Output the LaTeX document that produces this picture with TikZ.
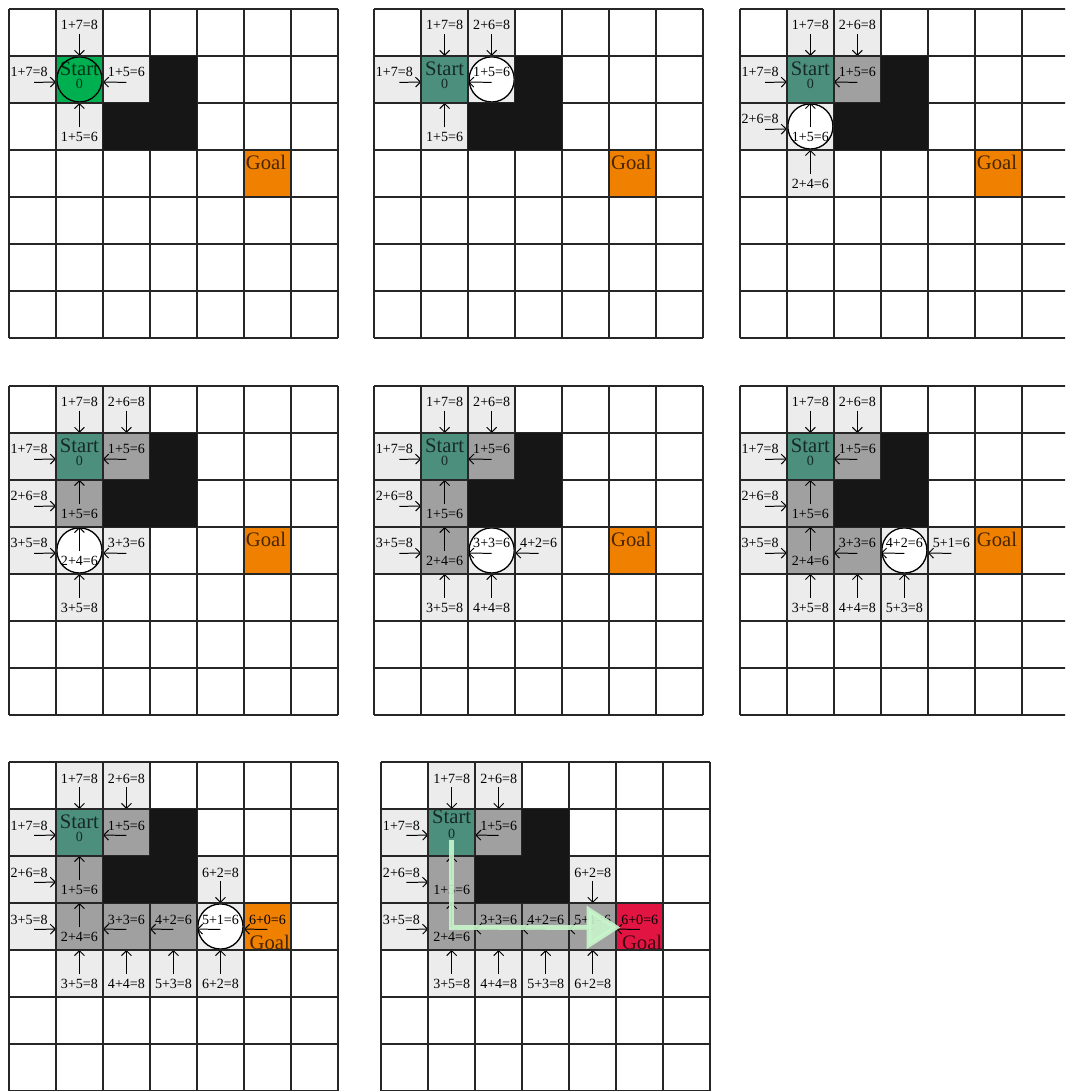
\documentclass[tikz,border=0pt]{standalone}
\usepackage{fontspec}
\setmainfont{Liberation Serif}
\usetikzlibrary{arrows.meta}

\definecolor{openGray}{RGB}{236,236,236}
\definecolor{closedGray}{RGB}{160,160,160}
\definecolor{wallBlack}{RGB}{22,22,22}
\definecolor{startGreen}{RGB}{0,176,80}
\definecolor{startTeal}{RGB}{76,143,124}
\definecolor{goalOrange}{RGB}{240,128,0}
\definecolor{goalRed}{RGB}{226,20,66}
\definecolor{routeGreen}{RGB}{200,246,204}

% cell whose arrow points down / up / left / right to its parent
% [circle style]{col}{row}{fill style}{f = g + h}
\newcommand{\dncell}[5][]{%
  \fill[#4] (#2,-#3) rectangle ++(1,-1);
  \path[#1] ({#2+0.5},{-#3-0.5}) circle (0.48);
  \node[lbl] (v#2#3) at ({#2+0.5},{-#3-0.35}) {#5};
  \coordinate (e#2#3) at ({#2+0.5},{-#3-1});
  \draw[arr] ([yshift=-2pt]v#2#3.south) -- (e#2#3);
}
\newcommand{\upcell}[5][]{%
  \fill[#4] (#2,-#3) rectangle ++(1,-1);
  \path[#1] ({#2+0.5},{-#3-0.5}) circle (0.48);
  \node[lbl] (v#2#3) at ({#2+0.5},{-#3-0.73}) {#5};
  \coordinate (e#2#3) at ({#2+0.5},{-#3});
  \draw[arr] ([yshift=3pt]v#2#3.north) -- (e#2#3);
}
\newcommand{\ltcell}[5][]{%
  \fill[#4] (#2,-#3) rectangle ++(1,-1);
  \path[#1] ({#2+0.5},{-#3-0.5}) circle (0.48);
  \node[lbl] (v#2#3) at ({#2+0.5},{-#3-0.35}) {#5};
  \coordinate (e#2#3) at ({#2},{-#3-0.555});
  \draw[arr] ([yshift=-3pt]v#2#3.south) -- (e#2#3);
}
\newcommand{\rtcell}[5][]{%
  \fill[#4] (#2,-#3) rectangle ++(1,-1);
  \path[#1] ({#2+0.5},{-#3-0.5}) circle (0.48);
  \node[lbl] (v#2#3) at ({#2+0.43},{-#3-0.35}) {#5};
  \coordinate (e#2#3) at ({#2+1},{-#3-0.555});
  \draw[arr] ([xshift=3pt,yshift=-3pt]v#2#3.south) -- (e#2#3);
}
\newcommand{\walls}{%
  \fill[wallBlack] (3,-1) rectangle (4,-3);
  \fill[wallBlack] (2,-2) rectangle (3,-3);
}
\newcommand{\goalcell}{%
  \fill[goalOrange] (5,-3) rectangle ++(1,-1);
  \node[biglbl] (goal) at (5.47,-3.27) {Goal};
}
\newcommand{\startlabel}{%
  \node[biglbl] (start) at (1.5,-1.27) {Start};
  \node[lbl,text opacity=.7] (zero) at (1.5,-1.6) {0};
}
\newcommand{\gridlines}{\draw[gridline] (0,-7) grid (7,0);}

\begin{document}
\begin{tikzpicture}[>={Straight Barb[length=3pt,width=6pt]},
  lbl/.style={font=\fontsize{8.5}{9}\selectfont,inner sep=0pt},
  biglbl/.style={font=\fontsize{12.5}{13}\selectfont,inner sep=0pt,text opacity=.7},
  opencell/.style={fill=openGray},
  closedcell/.style={fill=closedGray},
  cur/.style={draw,fill=white,line width=0.8pt},
  arr/.style={->,line width=0.6pt},
  gridline/.style={draw=black!85,line width=1.1pt},
  route/.style={draw=routeGreen,line width=2.8pt,opacity=.9,
    -{Triangle[length=0.72cm,width=0.9cm]}}]
  \useasboundingbox (0,0) rectangle (22.66,-23.21);
  \clip (0,0) rectangle (22.66,-23.21);

  % step 1
  \begin{scope}[shift={(0.19,-0.19)}]
    \goalcell
    \fill[startGreen] (1,-1) rectangle ++(1,-1);
    \dncell{1}{0}{opencell}{1+7=8}
    \rtcell{0}{1}{opencell}{1+7=8}
    \ltcell{2}{1}{opencell}{1+5=6}
    \upcell{1}{2}{opencell}{1+5=6}
    \path[cur,fill=startGreen] (1.5,-1.5) circle (0.48);
    \startlabel
    \gridlines \walls
  \end{scope}

  % step 2
  \begin{scope}[shift={(7.96,-0.19)}]
    \goalcell
    \fill[startTeal] (1,-1) rectangle ++(1,-1);
    \dncell{1}{0}{opencell}{1+7=8}
    \dncell{2}{0}{opencell}{2+6=8}
    \rtcell{0}{1}{opencell}{1+7=8}
    \ltcell[cur]{2}{1}{opencell}{1+5=6}
    \upcell{1}{2}{opencell}{1+5=6}
    \startlabel
    \gridlines \walls
  \end{scope}

  % step 3
  \begin{scope}[shift={(15.74,-0.19)}]
    \goalcell
    \fill[startTeal] (1,-1) rectangle ++(1,-1);
    \dncell{1}{0}{opencell}{1+7=8}
    \dncell{2}{0}{opencell}{2+6=8}
    \rtcell{0}{1}{opencell}{1+7=8}
    \ltcell{2}{1}{closedcell}{1+5=6}
    \rtcell{0}{2}{opencell}{2+6=8}
    \upcell[cur]{1}{2}{opencell}{1+5=6}
    \upcell{1}{3}{opencell}{2+4=6}
    \startlabel
    \gridlines \walls
  \end{scope}

  % step 4
  \begin{scope}[shift={(0.19,-8.21)}]
    \goalcell
    \fill[startTeal] (1,-1) rectangle ++(1,-1);
    \dncell{1}{0}{opencell}{1+7=8}
    \dncell{2}{0}{opencell}{2+6=8}
    \rtcell{0}{1}{opencell}{1+7=8}
    \ltcell{2}{1}{closedcell}{1+5=6}
    \rtcell{0}{2}{opencell}{2+6=8}
    \upcell{1}{2}{closedcell}{1+5=6}
    \rtcell{0}{3}{opencell}{3+5=8}
    \upcell[cur]{1}{3}{opencell}{2+4=6}
    \ltcell{2}{3}{opencell}{3+3=6}
    \upcell{1}{4}{opencell}{3+5=8}
    \startlabel
    \gridlines \walls
  \end{scope}

  % step 5
  \begin{scope}[shift={(7.96,-8.21)}]
    \goalcell
    \fill[startTeal] (1,-1) rectangle ++(1,-1);
    \dncell{1}{0}{opencell}{1+7=8}
    \dncell{2}{0}{opencell}{2+6=8}
    \rtcell{0}{1}{opencell}{1+7=8}
    \ltcell{2}{1}{closedcell}{1+5=6}
    \rtcell{0}{2}{opencell}{2+6=8}
    \upcell{1}{2}{closedcell}{1+5=6}
    \rtcell{0}{3}{opencell}{3+5=8}
    \upcell{1}{3}{closedcell}{2+4=6}
    \ltcell[cur]{2}{3}{opencell}{3+3=6}
    \ltcell{3}{3}{opencell}{4+2=6}
    \upcell{1}{4}{opencell}{3+5=8}
    \upcell{2}{4}{opencell}{4+4=8}
    \startlabel
    \gridlines \walls
  \end{scope}

  % step 6
  \begin{scope}[shift={(15.74,-8.21)}]
    \goalcell
    \fill[startTeal] (1,-1) rectangle ++(1,-1);
    \dncell{1}{0}{opencell}{1+7=8}
    \dncell{2}{0}{opencell}{2+6=8}
    \rtcell{0}{1}{opencell}{1+7=8}
    \ltcell{2}{1}{closedcell}{1+5=6}
    \rtcell{0}{2}{opencell}{2+6=8}
    \upcell{1}{2}{closedcell}{1+5=6}
    \rtcell{0}{3}{opencell}{3+5=8}
    \upcell{1}{3}{closedcell}{2+4=6}
    \ltcell{2}{3}{closedcell}{3+3=6}
    \ltcell[cur]{3}{3}{opencell}{4+2=6}
    \ltcell{4}{3}{opencell}{5+1=6}
    \upcell{1}{4}{opencell}{3+5=8}
    \upcell{2}{4}{opencell}{4+4=8}
    \upcell{3}{4}{opencell}{5+3=8}
    \startlabel
    \gridlines \walls
  \end{scope}

  % step 7
  \begin{scope}[shift={(0.19,-16.21)}]
    \fill[startTeal] (1,-1) rectangle ++(1,-1);
    \dncell{1}{0}{opencell}{1+7=8}
    \dncell{2}{0}{opencell}{2+6=8}
    \rtcell{0}{1}{opencell}{1+7=8}
    \ltcell{2}{1}{closedcell}{1+5=6}
    \rtcell{0}{2}{opencell}{2+6=8}
    \upcell{1}{2}{closedcell}{1+5=6}
    \rtcell{0}{3}{opencell}{3+5=8}
    \upcell{1}{3}{closedcell}{2+4=6}
    \ltcell{2}{3}{closedcell}{3+3=6}
    \ltcell{3}{3}{closedcell}{4+2=6}
    \ltcell[cur]{4}{3}{opencell}{5+1=6}
    \dncell{4}{2}{opencell}{6+2=8}
    \ltcell{5}{3}{fill=goalOrange}{6+0=6}
    \node[biglbl] (goal) at (5.55,-3.84) {Goal};
    \upcell{1}{4}{opencell}{3+5=8}
    \upcell{2}{4}{opencell}{4+4=8}
    \upcell{3}{4}{opencell}{5+3=8}
    \upcell{4}{4}{opencell}{6+2=8}
    \startlabel
    \gridlines \walls
  \end{scope}

  % step 8: path found
  \begin{scope}[shift={(8.11,-16.21)}]
    \fill[startTeal] (1,-1) rectangle ++(1,-1);
    \dncell{1}{0}{opencell}{1+7=8}
    \dncell{2}{0}{opencell}{2+6=8}
    \rtcell{0}{1}{opencell}{1+7=8}
    \ltcell{2}{1}{closedcell}{1+5=6}
    \rtcell{0}{2}{opencell}{2+6=8}
    \upcell{1}{2}{closedcell}{1+5=6}
    \rtcell{0}{3}{opencell}{3+5=8}
    \upcell{1}{3}{closedcell}{2+4=6}
    \ltcell{2}{3}{closedcell}{3+3=6}
    \ltcell{3}{3}{closedcell}{4+2=6}
    \ltcell{4}{3}{closedcell}{5+1=6}
    \dncell{4}{2}{opencell}{6+2=8}
    \ltcell{5}{3}{fill=goalRed}{6+0=6}
    \node[biglbl] (goal) at (5.55,-3.84) {Goal};
    \upcell{1}{4}{opencell}{3+5=8}
    \upcell{2}{4}{opencell}{4+4=8}
    \upcell{3}{4}{opencell}{5+3=8}
    \upcell{4}{4}{opencell}{6+2=8}
    \node[biglbl] (start) at (1.5,-1.17) {Start};
    \node[lbl,text opacity=.7] (zero) at (1.5,-1.54) {0};
    \gridlines \walls
    \coordinate (r0) at (1.5,-1.66);
    \coordinate (r1) at (1.5,-3.52);
    \coordinate (r2) at (5.09,-3.52);
    \draw[route] (r0) -- (r1) -- (r2);
  \end{scope}
\end{tikzpicture}
\end{document}
